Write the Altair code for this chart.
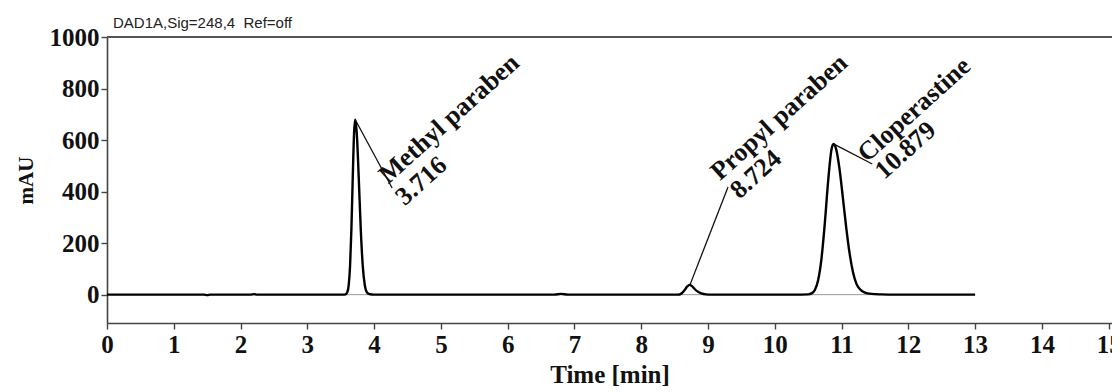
import altair as alt
import pandas as pd

# ---- chromatogram trace (time in min, signal in mAU) ----
time = [0.0, 0.5, 1.0, 1.45, 1.5, 1.55, 2.0, 2.15, 2.2, 2.25, 2.8, 3.3, 3.54,
        3.57, 3.60, 3.62, 3.64, 3.66, 3.68, 3.70, 3.716, 3.74, 3.77, 3.80, 3.83,
        3.86, 3.89, 3.93, 4.0, 4.5, 5.5, 6.5, 6.7, 6.8, 6.9, 7.5, 8.3, 8.55,
        8.60, 8.65, 8.69, 8.724, 8.76, 8.80, 8.85, 8.90, 8.97, 9.05, 9.8, 10.3,
        10.5, 10.55, 10.60, 10.65, 10.70, 10.75, 10.80, 10.85, 10.879, 10.92,
        10.97, 11.02, 11.07, 11.12, 11.17, 11.22, 11.28, 11.35, 11.45, 11.6,
        11.8, 12.4, 13.0]
signal = [0, 0, 0, 0, -2, 0, 0, 0, 2, 0, 0, 0, 0,
          1, 10, 38, 112, 255, 453, 627, 680, 628, 454, 255, 112,
          38, 10, 2, 0, 0, 0, 0, 0, 3, 0, 0, 0, 0,
          4, 18, 32, 38, 33, 22, 11, 5, 1, 0, 0, 0,
          1, 5, 18, 57, 141, 279, 443, 564, 585, 564,
          487, 376, 260, 161, 89, 44, 20, 8, 3, 1,
          0, 0, 0]

# ---- baseline ----
base_time = [0.0, 13.0]
base_signal = [0, 0]

# ---- peak annotations ----
peak_names = ["Methyl paraben", "Propyl paraben", "Cloperastine"]
peak_rt_labels = ["3.716", "8.724", "10.879"]
peak_time = [3.716, 8.73, 10.879]
peak_height = [680, 38, 585]
leader_end_time = [4.27, 9.30, 11.46]
leader_end_height = [414, 418, 507]
name_time = [4.21, 9.18, 11.38]
name_height = [428, 440, 511]
rt_time = [4.46, 9.47, 11.64]
rt_height = [342, 368, 444]

x_ticks = list(range(0, 16))
y_ticks = [0, 200, 400, 600, 800, 1000]

trace = pd.DataFrame({"t": time, "s": signal})
base = pd.DataFrame({"t": base_time, "s": base_signal})
ann = pd.DataFrame({
    "name": peak_names, "rt": peak_rt_labels,
    "pt": peak_time, "ph": peak_height,
    "lt": leader_end_time, "lh": leader_end_height,
    "nt": name_time, "nh": name_height,
    "rtt": rt_time, "rth": rt_height,
})

SERIF = "Liberation Serif"
x_scale = alt.Scale(domain=[0, 15.05], nice=False, zero=False)
y_scale = alt.Scale(domain=[-110, 1000], nice=False, zero=False)

x_axis = alt.Axis(values=x_ticks, format="d", title="Time [min]",
                  labelFont=SERIF, labelFontSize=25, labelFontWeight="bold",
                  labelColor="#111", titleFont=SERIF, titleFontSize=25,
                  titleFontWeight="bold", titleColor="#111", titlePadding=5,
                  domainColor="#444", domainWidth=1.6, tickColor="#444",
                  tickWidth=1.4, tickSize=6, labelPadding=3, grid=False,
                  labelFlush=False, labelOverlap=False)
y_axis = alt.Axis(values=y_ticks, format="d", title="mAU",
                  labelFont=SERIF, labelFontSize=25, labelFontWeight="bold",
                  labelColor="#111", titleFont=SERIF, titleFontSize=21,
                  titleFontWeight="bold", titleColor="#111", titlePadding=13,
                  domainColor="#444", domainWidth=1.6, tickColor="#444",
                  tickWidth=1.4, tickSize=6, labelPadding=2, grid=False,
                  labelFlush=False, labelOverlap=False)

baseline = alt.Chart(base).mark_line(color="#9a9a9a", strokeWidth=1).encode(
    x=alt.X("t:Q", scale=x_scale, axis=x_axis),
    y=alt.Y("s:Q", scale=y_scale, axis=y_axis),
)

line = alt.Chart(trace).mark_line(color="#000", strokeWidth=2.4,
                                  interpolate="monotone").encode(
    x=alt.X("t:Q", scale=x_scale),
    y=alt.Y("s:Q", scale=y_scale),
)

top_rule = alt.Chart(pd.DataFrame({"v": [1000]})).mark_rule(
    color="#555", strokeWidth=2).encode(y=alt.Y("v:Q", scale=y_scale))

leaders = alt.Chart(ann).mark_rule(color="#111", strokeWidth=1.3).encode(
    x=alt.X("pt:Q", scale=x_scale), y=alt.Y("ph:Q", scale=y_scale),
    x2="lt:Q", y2="lh:Q",
)

names = alt.Chart(ann).mark_text(
    font=SERIF, fontSize=26, fontWeight="bold", color="#111",
    angle=318, align="left", baseline="alphabetic").encode(
    x=alt.X("nt:Q", scale=x_scale), y=alt.Y("nh:Q", scale=y_scale),
    text="name:N",
)

rts = alt.Chart(ann).mark_text(
    font=SERIF, fontSize=26, fontWeight="bold", color="#111",
    angle=318, align="left", baseline="alphabetic").encode(
    x=alt.X("rtt:Q", scale=x_scale), y=alt.Y("rth:Q", scale=y_scale),
    text="rt:N",
)

chart = alt.layer(baseline, line, top_rule, leaders, names, rts).properties(
    width=1005, height=286,
    title=alt.TitleParams("DAD1A,Sig=248,4 \u00a0Ref=off", anchor="start",
                          frame="group",
                          font="Liberation Sans", fontSize=15,
                          fontWeight="normal", color="#222", dx=6, dy=8,
                          offset=2),
    autosize=alt.AutoSizeParams(type="none"),
    padding={"left": 99, "top": 29, "right": 0, "bottom": 68},
).configure_view(stroke=None).configure(background="white")

chart.save("out.html", embed_options={"renderer": "svg", "actions": False})
